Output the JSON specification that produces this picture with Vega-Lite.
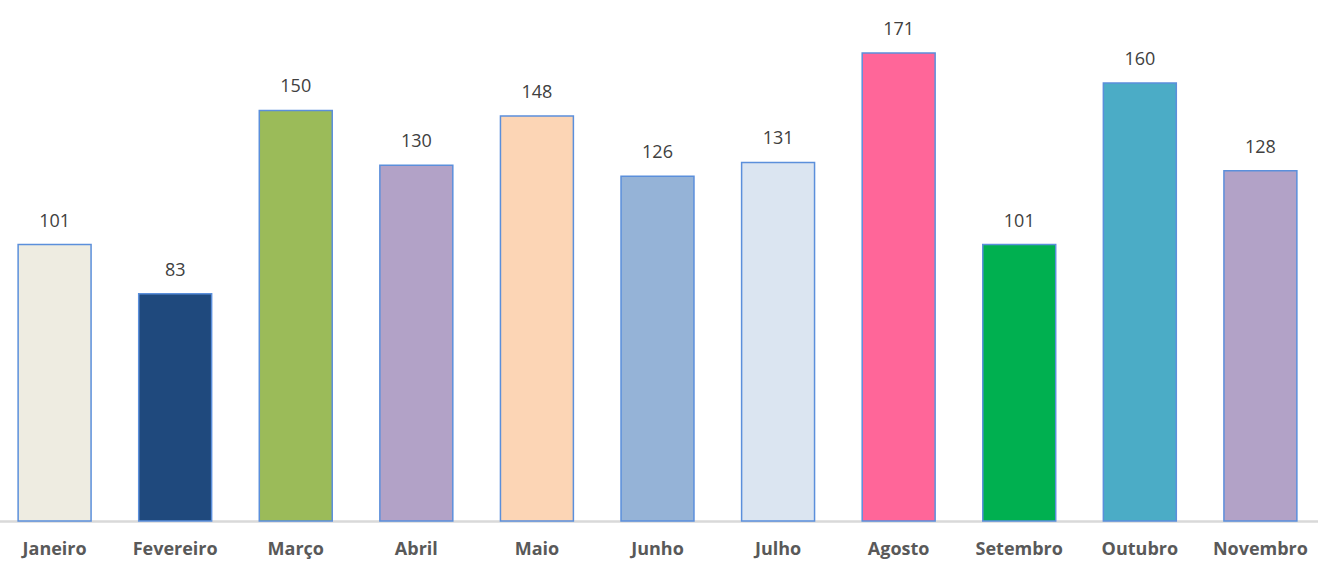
{
  "$schema": "https://vega.github.io/schema/vega-lite/v6.json",
  "autosize": {"type": "none"},
  "padding": {"left": -6, "top": 30, "right": 0, "bottom": 45},
  "width": 1327,
  "height": 491,
  "background": "white",
  "config": {"view": {"stroke": null}},
  "data": {"values": [
    {"mes": "Janeiro", "valor": 101, "cor": "#EEECE1"},
    {"mes": "Fevereiro", "valor": 83, "cor": "#1F497D"},
    {"mes": "Março", "valor": 150, "cor": "#9BBB59"},
    {"mes": "Abril", "valor": 130, "cor": "#B2A2C7"},
    {"mes": "Maio", "valor": 148, "cor": "#FCD5B5"},
    {"mes": "Junho", "valor": 126, "cor": "#95B3D7"},
    {"mes": "Julho", "valor": 131, "cor": "#DBE5F1"},
    {"mes": "Agosto", "valor": 171, "cor": "#FF6699"},
    {"mes": "Setembro", "valor": 101, "cor": "#00B050"},
    {"mes": "Outubro", "valor": 160, "cor": "#4BACC6"},
    {"mes": "Novembro", "valor": 128, "cor": "#B2A2C7"}
  ]},
  "encoding": {
    "x": {
      "field": "mes", "type": "nominal", "sort": null,
      "scale": {"paddingInner": 0.395, "paddingOuter": 0.2},
      "axis": {
        "title": null, "labelAngle": 0, "ticks": false,
        "domainColor": "#D9D9D9", "domainWidth": 2.5,
        "labelFont": "Open Sans", "labelFontSize": 18, "labelFontWeight": "bold",
        "labelColor": "#595959", "labelPadding": 19
      }
    },
    "y": {
      "field": "valor", "type": "quantitative",
      "scale": {"domain": [0, 179.4], "nice": false},
      "axis": null
    }
  },
  "layer": [
    {
      "mark": {"type": "bar", "stroke": "#5B8FDB", "strokeWidth": 1.5},
      "encoding": {"fill": {"field": "cor", "type": "nominal", "scale": null}}
    },
    {
      "mark": {"type": "text", "baseline": "alphabetic", "dy": -18, "font": "Open Sans", "fontSize": 18, "color": "#404040"},
      "encoding": {"text": {"field": "valor", "type": "quantitative"}}
    }
  ]
}
